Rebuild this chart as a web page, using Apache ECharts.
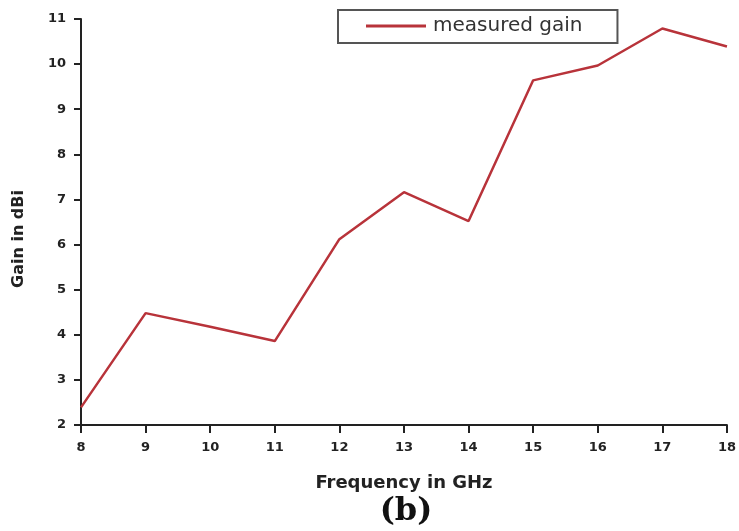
<!DOCTYPE html>
<html>
<head>
<meta charset="utf-8">
<script src="https://cdn.jsdelivr.net/npm/echarts@6/dist/echarts.min.js"></script>
<style>
  html, body { margin: 0; padding: 0; background: #fff; }
  #chart { width: 739px; height: 531px; }
</style>
</head>
<body>
<div id="chart"></div>
<script>
// Frequency sweep (GHz) and the measured antenna gain (dBi)
const frequencies = [8, 9, 10, 11, 12, 13, 14, 15, 16, 17, 18];
const gainValues = [2.39, 4.48, 4.18, 3.86, 6.12, 7.16, 6.52, 9.64, 9.97, 10.79, 10.39];
const seriesName = 'measured gain';
const xTitle = 'Frequency in GHz';
const yTitle = 'Gain in dBi';
const panelLabel = '(b)';

const chart = echarts.init(document.getElementById('chart'));
const wide = 'DejaVu Sans, Verdana, sans-serif';
const tickFont = { fontFamily: wide, fontWeight: 'bold', fontSize: 13, color: '#222' };

chart.setOption({
  backgroundColor: '#ffffff',
  animation: false,
  grid: { left: 81, right: 9, top: 19, bottom: 106 },
  legend: {
    data: [seriesName],
    left: 338,
    top: 10,
    padding: [6, 35, 7, 28],
    borderColor: '#555555',
    borderWidth: 2,
    icon: 'rect',
    itemWidth: 60,
    itemHeight: 3,
    textStyle: { fontFamily: wide, fontSize: 20, color: '#333', padding: [0, 0, 0, 2] }
  },
  xAxis: {
    type: 'value',
    min: 8, max: 18, interval: 1,
    name: xTitle,
    nameLocation: 'middle',
    nameGap: 49,
    nameTextStyle: { fontFamily: wide, fontWeight: 'bold', fontSize: 18, color: '#222' },
    axisLine: { onZero: false, lineStyle: { color: '#222', width: 2 } },
    axisTick: { length: 8, lineStyle: { color: '#222', width: 2 } },
    axisLabel: Object.assign({ margin: 16 }, tickFont),
    splitLine: { show: false }
  },
  yAxis: {
    type: 'value',
    min: 2, max: 11, interval: 1,
    axisLine: { show: true, lineStyle: { color: '#222', width: 2 } },
    axisTick: { show: true, length: 7, lineStyle: { color: '#222', width: 2 } },
    axisLabel: Object.assign({ margin: 15 }, tickFont),
    splitLine: { show: false }
  },
  graphic: [{
    // vertical axis title, reading bottom to top
    type: 'text',
    x: 19,
    y: 239,
    rotation: Math.PI / 2,
    style: {
      text: yTitle,
      align: 'center',
      verticalAlign: 'middle',
      fontSize: 16,
      fontWeight: 'bold',
      fontFamily: wide,
      fill: '#222'
    }
  }, {
    // panel caption under the chart
    type: 'text',
    x: 406,
    y: 512,
    style: {
      text: panelLabel,
      align: 'center',
      verticalAlign: 'middle',
      fontSize: 32,
      fontWeight: 'bold',
      fontFamily: 'DejaVu Serif, Liberation Serif, serif',
      fill: '#111'
    }
  }],
  series: [{
    name: seriesName,
    type: 'line',
    symbol: 'none',
    data: frequencies.map((f, i) => [f, gainValues[i]]),
    lineStyle: { color: '#b8333a', width: 2.5 },
    itemStyle: { color: '#b8333a' }
  }]
});
</script>
</body>
</html>
